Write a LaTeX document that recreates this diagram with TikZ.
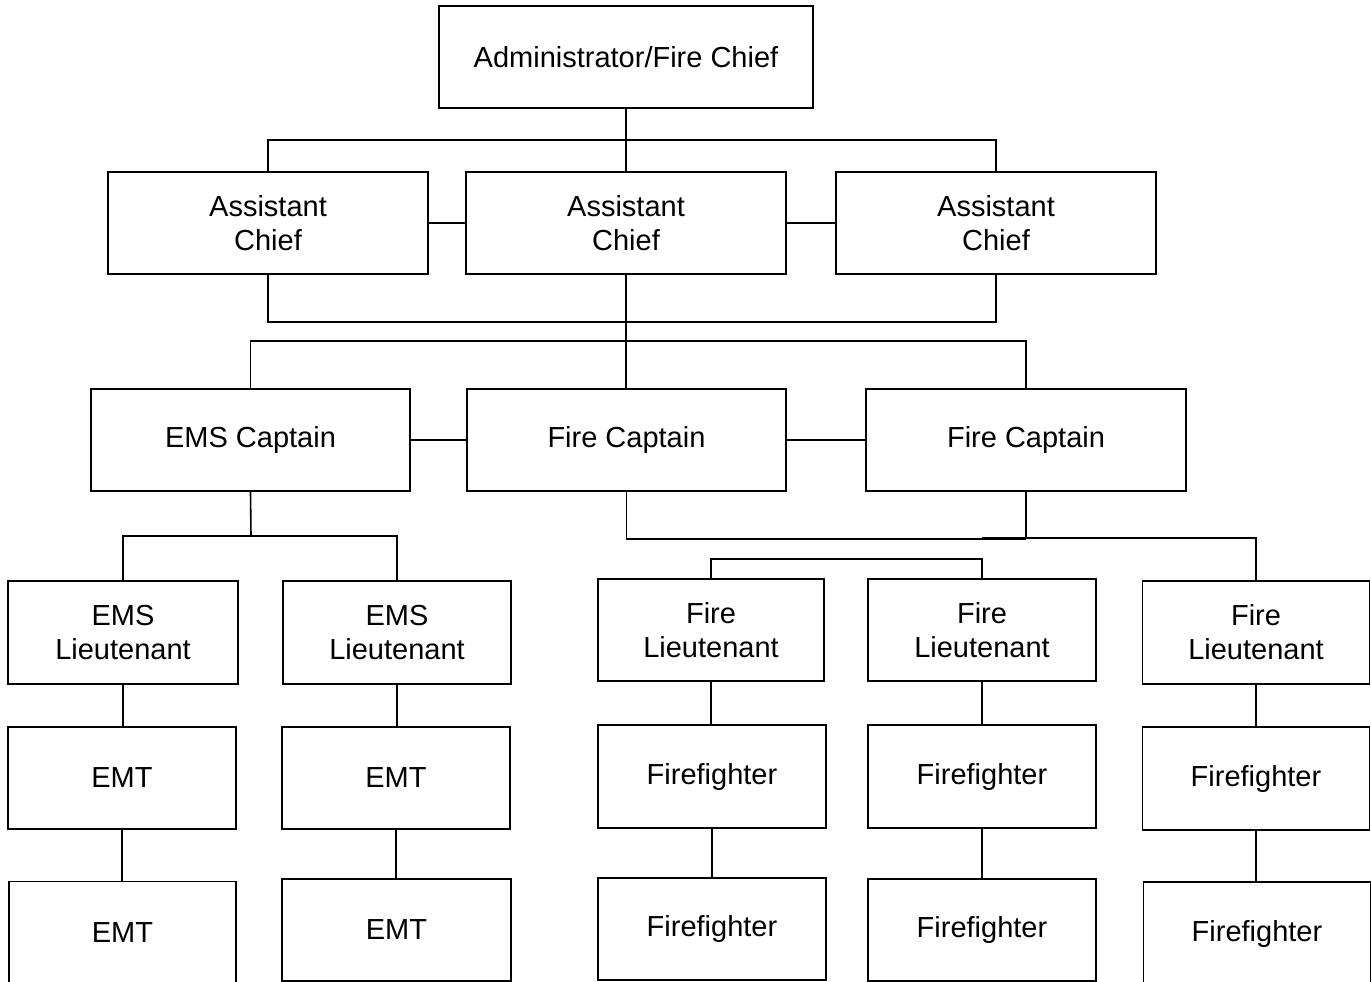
\documentclass[tikz,border=0pt]{standalone}
\usepackage{fontspec}
\setmainfont{Liberation Sans}
\begin{document}
\begin{tikzpicture}[x=1pt,y=-1pt,
  box/.style={draw=black, line width=1.6pt, fill=white, rectangle, inner sep=0pt,
    align=center, font=\fontsize{29}{34}\selectfont},
  conn/.style={draw=black, line width=1.6pt}]
\useasboundingbox (0,0) rectangle (1371,982);
\clip (0,0) rectangle (1371,982);
\fill[white] (0,0) rectangle (1371,982);

% level 1
\node[box, minimum width=374pt, minimum height=102pt] (admin) at (626,57) {Administrator/Fire Chief};
% level 2
\node[box, minimum width=320pt, minimum height=102pt] (ac1) at (268,223) {Assistant\\Chief};
\node[box, minimum width=320pt, minimum height=102pt] (ac2) at (626,223) {Assistant\\Chief};
\node[box, minimum width=320pt, minimum height=102pt] (ac3) at (996,223) {Assistant\\Chief};
% level 3
\node[box, minimum width=319pt, minimum height=102pt] (emscap) at (250.5,440) {EMS Captain};
\node[box, minimum width=319pt, minimum height=102pt] (fcap1) at (626.5,440) {Fire Captain};
\node[box, minimum width=320pt, minimum height=102pt] (fcap2) at (1026,440) {Fire Captain};
% level 4
\node[box, minimum width=230pt, minimum height=103pt] (emslt1) at (123,632.5) {EMS\\Lieutenant};
\node[box, minimum width=228pt, minimum height=103pt] (emslt2) at (397,632.5) {EMS\\Lieutenant};
\node[box, minimum width=226pt, minimum height=102pt] (firelt1) at (711,630) {Fire\\Lieutenant};
\node[box, minimum width=228pt, minimum height=102pt] (firelt2) at (982,630) {Fire\\Lieutenant};
\node[box, minimum width=227pt, minimum height=103pt] (firelt3) at (1256,632.5) {Fire\\Lieutenant};
% level 5
\node[box, minimum width=228pt, minimum height=102pt] (emt1) at (122,778) {EMT};
\node[box, minimum width=228pt, minimum height=102pt] (emt2) at (396,778) {EMT};
\node[box, minimum width=228pt, minimum height=103pt] (ff1) at (712,776.5) {Firefighter};
\node[box, minimum width=228pt, minimum height=103pt] (ff2) at (982,776.5) {Firefighter};
\node[box, minimum width=227pt, minimum height=103pt] (ff3) at (1256,778.5) {Firefighter};
% level 6
\node[box, minimum width=227pt, minimum height=103pt] (emt3) at (122.5,933) {EMT};
\node[box, minimum width=229pt, minimum height=102pt] (emt4) at (396.5,930) {EMT};
\node[box, minimum width=228pt, minimum height=102pt] (ff4) at (712,929) {Firefighter};
\node[box, minimum width=228pt, minimum height=102pt] (ff5) at (982,930) {Firefighter};
\node[box, minimum width=227pt, minimum height=104pt] (ff6) at (1257,934) {Firefighter};

% bar coordinates
\coordinate (acbar) at (626,140);
\coordinate (acbar2) at (626,322);
\coordinate (capbar) at (626,341);
\coordinate (emsbar) at (251,536);
\coordinate (fbar) at (1026,539);
\coordinate (fbar2) at (982,538);
\coordinate (ltbar) at (846,559);

% connectors
\draw[conn] (admin.south) -- (ac2.north);
\draw[conn] (ac1.north) |- (acbar) -| (ac3.north);
\draw[conn] (ac1.east) -- (ac2.west);
\draw[conn] (ac2.east) -- (ac3.west);
\draw[conn] (ac1.south) |- (acbar2) -| (ac3.south);
\draw[conn] (ac2.south) -- (ac2.south |- fcap1.north);
\draw[conn] (emscap.north) |- (capbar) -| (fcap2.north);
\draw[conn] (emscap.east) -- (emscap.east -| fcap1.west);
\draw[conn] (fcap1.east) -- (fcap1.east -| fcap2.west);
\draw[conn] (emscap.south) -- (emsbar);
\draw[conn] (emslt1.north) |- (emsbar) -| (emslt2.north);
\draw[conn] (fcap1.south) |- (fbar);
\draw[conn] (fcap2.south) -- (fbar);
\draw[conn] (fbar2) -| (firelt3.north);
\draw[conn] (firelt1.north) |- (ltbar) -| (firelt2.north);

\draw[conn] (emslt1.south) -- (emslt1.south |- emt1.north);
\draw[conn] (emslt2.south) -- (emslt2.south |- emt2.north);
\draw[conn] (firelt1.south) -- (firelt1.south |- ff1.north);
\draw[conn] (firelt2.south) -- (firelt2.south |- ff2.north);
\draw[conn] (firelt3.south) -- (firelt3.south |- ff3.north);
\draw[conn] (emt1.south) -- (emt1.south |- emt3.north);
\draw[conn] (emt2.south) -- (emt2.south |- emt4.north);
\draw[conn] (ff1.south) -- (ff1.south |- ff4.north);
\draw[conn] (ff2.south) -- (ff2.south |- ff5.north);
\draw[conn] (ff3.south) -- (ff3.south |- ff6.north);
\end{tikzpicture}
\end{document}
